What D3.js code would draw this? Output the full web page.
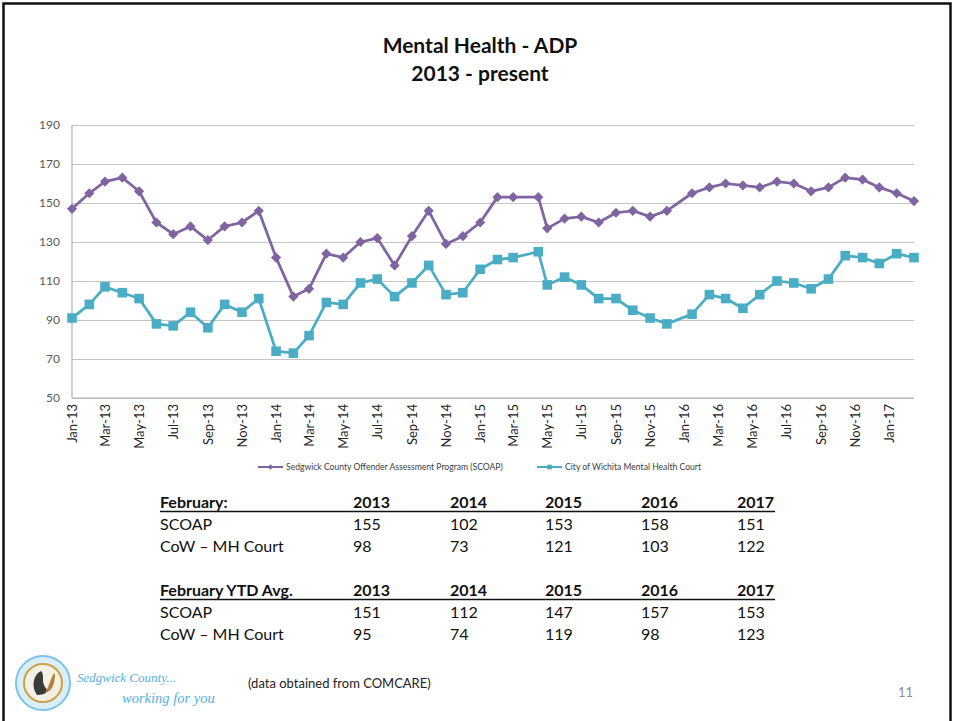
<!DOCTYPE html>
<html>
<head>
<meta charset="utf-8">
<script src="https://cdn.jsdelivr.net/npm/d3@7"></script>
<style>
  body { margin: 0; background: #fff; }
  svg { display: block; font-family: Lato, "Open Sans", sans-serif; }
</style>
</head>
<body>
<div id="chart-area"></div>
<script>
const W = 954, H = 721

// data (monthly ADP). dates: 1st of month early on, 15th later
const dates = [
  "2013-01-01","2013-02-01","2013-03-01","2013-04-01","2013-05-01","2013-06-01",
  "2013-07-01","2013-08-01","2013-09-01","2013-10-01","2013-11-01","2013-12-01",
  "2014-01-01","2014-02-01","2014-03-01","2014-04-01","2014-05-01","2014-06-01",
  "2014-07-01","2014-08-01","2014-09-01","2014-10-01","2014-11-01","2014-12-01",
  "2015-01-01","2015-02-01","2015-03-01","2015-04-15","2015-05-01","2015-06-01",
  "2015-07-01","2015-08-01","2015-09-01","2015-10-01","2015-11-01","2015-12-01",
  "2016-01-15","2016-02-15","2016-03-15","2016-04-15","2016-05-15","2016-06-15",
  "2016-07-15","2016-08-15","2016-09-15","2016-10-15","2016-11-15","2016-12-15",
  "2017-01-15","2017-02-15"
]
const scoap = [
  147,155,161,163,156,140,134,138,131,138,140,146,
  122,102,106,124,122,130,132,118,133,146,129,133,
  140,153,153,153,137,142,143,140,145,146,143,146,
  155,158,160,159,158,161,160,156,158,163,162,158,
  155,151
]
const cowCourt = [
  91,98,107,104,101,88,87,94,86,98,94,101,
  74,73,82,99,98,109,111,102,109,118,103,104,
  116,121,122,125,108,112,108,101,101,95,91,88,
  93,103,101,96,103,110,109,106,111,123,122,119,
  124,122
]
const seriesNames = ["Sedgwick County Offender Assessment Program (SCOAP)", "City of Wichita Mental Health Court"]
const yTicks = [50, 70, 90, 110, 130, 150, 170, 190]

// summary table
const tableYears = ["2013", "2014", "2015", "2016", "2017"]
const febScoap = [155, 102, 153, 158, 151]
const febCow = [98, 73, 121, 103, 122]
const ytdScoap = [151, 112, 147, 157, 153]
const ytdCow = [95, 74, 119, 98, 123]

const PURPLE = "#8064A2"
const AQUA = "#4BACC6"

const MARGIN = { LEFT: 72, RIGHT: 40, TOP: 125, BOTTOM: 323 }
const WIDTH = W - MARGIN.LEFT - MARGIN.RIGHT
const HEIGHT = H - MARGIN.TOP - MARGIN.BOTTOM

const svg = d3.select("#chart-area").append("svg")
  .attr("width", W)
  .attr("height", H)

// slide frame
svg.append("path")
  .attr("d", `M3.5,${H} V3.5 H950.5 V${H}`)
  .attr("fill", "none")
  .attr("stroke", "#111")
  .attr("stroke-width", 2.5)

// title
svg.append("text")
  .attr("x", 480).attr("y", 53)
  .attr("text-anchor", "middle")
  .attr("font-size", "21px").attr("font-weight", "bold")
  .attr("fill", "#111")
  .text("Mental Health - ADP")
svg.append("text")
  .attr("x", 480).attr("y", 81)
  .attr("text-anchor", "middle")
  .attr("font-size", "21px").attr("font-weight", "bold")
  .attr("fill", "#111")
  .text("2013 - present")

const g = svg.append("g")
  .attr("transform", `translate(${MARGIN.LEFT}, ${MARGIN.TOP})`)

const parseDate = d3.timeParse("%Y-%m-%d")
const points = dates.map((d, i) => ({ date: parseDate(d), a: scoap[i], b: cowCourt[i] }))

// scales
const x = d3.scaleTime()
  .domain(d3.extent(points, d => d.date))
  .range([0, WIDTH])
const y = d3.scaleLinear()
  .domain([50, 190])
  .range([HEIGHT, 0])

// gridlines + y labels
const yAxis = g.append("g")
  .call(d3.axisLeft(y).tickValues(yTicks).tickSize(-WIDTH).tickPadding(12))
yAxis.select(".domain").remove()
yAxis.selectAll(".tick line").attr("stroke", "#c4c4c4").attr("stroke-width", 1.2)
yAxis.selectAll(".tick text")
  .attr("font-size", "12px").attr("fill", "#595959")
  .attr("font-family", "Lato, sans-serif")

// axis lines
g.append("line")
  .attr("x1", 0).attr("x2", 0).attr("y1", 0).attr("y2", HEIGHT)
  .attr("stroke", "#b0b0b0").attr("stroke-width", 1.2)
g.append("line")
  .attr("x1", 0).attr("x2", WIDTH).attr("y1", HEIGHT).attr("y2", HEIGHT)
  .attr("stroke", "#b0b0b0").attr("stroke-width", 1.2)

// x labels
const xAxis = g.append("g")
  .attr("transform", `translate(0, ${HEIGHT})`)
  .call(d3.axisBottom(x).ticks(d3.timeMonth.every(2)).tickFormat(d3.timeFormat("%b-%y")).tickSize(0))
xAxis.select(".domain").remove()
xAxis.selectAll(".tick text")
  .attr("transform", "rotate(-90)")
  .attr("text-anchor", "end")
  .attr("x", -6)
  .attr("y", 0)
  .attr("dy", "0.35em")
  .attr("font-size", "13px")
  .attr("fill", "#262626")
  .attr("font-family", "Lato, sans-serif")

// lines
const lineA = d3.line().x(d => x(d.date)).y(d => y(d.a))
const lineB = d3.line().x(d => x(d.date)).y(d => y(d.b))

g.append("path")
  .attr("fill", "none").attr("stroke", PURPLE).attr("stroke-width", 2.75)
  .attr("stroke-linejoin", "round")
  .attr("d", lineA(points))
g.append("path")
  .attr("fill", "none").attr("stroke", AQUA).attr("stroke-width", 2.75)
  .attr("stroke-linejoin", "round")
  .attr("d", lineB(points))

const diamond = d3.symbol().type(d3.symbolSquare).size(52)
const square = d3.symbol().type(d3.symbolSquare).size(92)

g.selectAll(".mark-a").data(points).enter().append("path")
  .attr("class", "mark-a")
  .attr("d", diamond)
  .attr("fill", PURPLE)
  .attr("transform", d => `translate(${x(d.date)}, ${y(d.a)}) rotate(45)`)
g.selectAll(".mark-b").data(points).enter().append("path")
  .attr("class", "mark-b")
  .attr("d", square)
  .attr("fill", AQUA)
  .attr("transform", d => `translate(${x(d.date)}, ${y(d.b)})`)

// legend
const legend = svg.append("g").attr("transform", "translate(0, 467)")
const legendItems = [
  { x: 258, color: PURPLE, sym: d3.symbol().type(d3.symbolSquare).size(14), rot: 45 },
  { x: 537, color: AQUA, sym: d3.symbol().type(d3.symbolSquare).size(22), rot: 0 }
]
legendItems.forEach((it, i) => {
  legend.append("line")
    .attr("x1", it.x).attr("x2", it.x + 25).attr("y1", 0).attr("y2", 0)
    .attr("stroke", it.color).attr("stroke-width", 2)
  legend.append("path")
    .attr("d", it.sym())
    .attr("fill", it.color)
    .attr("transform", `translate(${it.x + 12.5}, 0) rotate(${it.rot})`)
  legend.append("text")
    .attr("x", it.x + 28).attr("y", 0).attr("dy", "0.35em")
    .attr("font-size", "8.6px").attr("fill", "#404040")
    .text(seriesNames[i])
})

// table
const colX = [353, 450, 545, 641, 737]
function drawBlock(top, header, rowA, rowB) {
  const t = svg.append("g").attr("font-size", "16px").attr("fill", "#111")
  t.append("text").attr("x", 160).attr("y", top).attr("font-weight", "bold").text(header)
  tableYears.forEach((yr, i) => {
    t.append("text").attr("x", colX[i]).attr("y", top).attr("font-weight", "bold").text(yr)
  })
  t.append("line")
    .attr("x1", 160).attr("x2", 775).attr("y1", top + 3.5).attr("y2", top + 3.5)
    .attr("stroke", "#111").attr("stroke-width", 1.5)
  t.append("text").attr("x", 160).attr("y", top + 21.5).text("SCOAP")
  t.append("text").attr("x", 160).attr("y", top + 43.5).text("CoW \u2013 MH Court")
  rowA.forEach((v, i) => t.append("text").attr("x", colX[i]).attr("y", top + 21.5).text(v))
  rowB.forEach((v, i) => t.append("text").attr("x", colX[i]).attr("y", top + 43.5).text(v))
}
drawBlock(508, "February:", febScoap, febCow)
drawBlock(596, "February YTD Avg.", ytdScoap, ytdCow)

// footer: county seal + tagline
const seal = svg.append("g").attr("transform", "translate(43, 683)")
seal.append("circle").attr("r", 27).attr("fill", "#d9eef9").attr("stroke", "#7cc2ea").attr("stroke-width", 2)
seal.append("circle").attr("r", 19).attr("fill", "#f3f0e4").attr("stroke", "#c9a24a").attr("stroke-width", 2)
seal.append("path")
  .attr("d", "M-6,12 C-12,4 -10,-8 -2,-12 C2,-8 -2,-2 2,4 C6,8 4,12 -6,12 Z")
  .attr("fill", "#3a3a3a")
seal.append("path")
  .attr("d", "M2,10 C8,0 8,-8 12,-10 C12,0 10,8 2,10 Z")
  .attr("fill", "#b5813a")

svg.append("text")
  .attr("x", 77).attr("y", 682)
  .attr("font-family", "'Liberation Serif', 'DejaVu Serif', serif")
  .attr("font-style", "italic").attr("font-size", "13px")
  .attr("fill", "#55b0e3")
  .text("Sedgwick County...")
svg.append("text")
  .attr("x", 122).attr("y", 703)
  .attr("font-family", "'Liberation Serif', 'DejaVu Serif', serif")
  .attr("font-style", "italic").attr("font-size", "14.5px")
  .attr("fill", "#55b0e3")
  .text("working for you")

svg.append("text")
  .attr("x", 248).attr("y", 688)
  .attr("font-size", "13px").attr("fill", "#222")
  .text("(data obtained from COMCARE)")

svg.append("text")
  .attr("x", 898).attr("y", 697)
  .attr("font-size", "13px").attr("fill", "#8c8c8c")
  .text("11")
</script>
</body>
</html>
